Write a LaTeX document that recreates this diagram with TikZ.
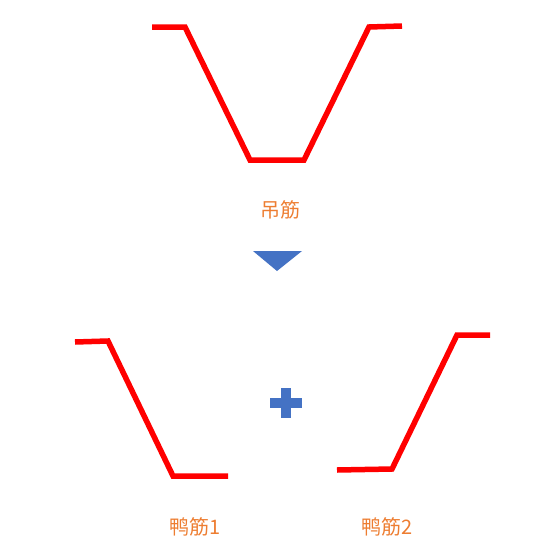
\documentclass[tikz,border=0pt]{standalone}
\usepackage{fontspec}
\newfontfamily\cjk{Noto Sans CJK SC}
\definecolor{barred}{RGB}{255,0,0}
\definecolor{tagorange}{RGB}{237,125,49}
\definecolor{signblue}{RGB}{68,114,196}
\tikzset{
  bar/.style={draw=barred, line width=5.5pt, line join=miter},
  tag/.style={text=tagorange, font=\cjk\fontsize{20}{24}\selectfont, inner sep=0pt},
  sign/.style={fill=signblue, draw=none}
}
\begin{document}
\begin{tikzpicture}[x=1pt,y=-1pt]
\useasboundingbox (0,0) rectangle (554,554);
%\draw (0,0) grid (554,554);
% diaojin
\draw [bar] (152,27) -- (185,27) -- (250,160) -- (304,160) -- (369,27) -- (402,26);
\node[tag] (diaojin) at (280,210) {吊筋};

\draw [sign] (253,251) -- (302,251) -- (277,271) -- cycle;

% yajin 1
\draw [bar] (75,342) -- (108,341) -- (173,476) -- (228,476);
\node[tag] (yajin1) at (195,527) {鸭筋1};

\draw [sign] (281,388) rectangle (291,418);
\draw [sign] (270,398) rectangle (302,408);

% yajin 2
\draw [bar] (337,470) -- (392,469) -- (457,335) -- (490,335);
\node[tag] (yajin2) at (387,527) {鸭筋2};
\end{tikzpicture}
\end{document}
